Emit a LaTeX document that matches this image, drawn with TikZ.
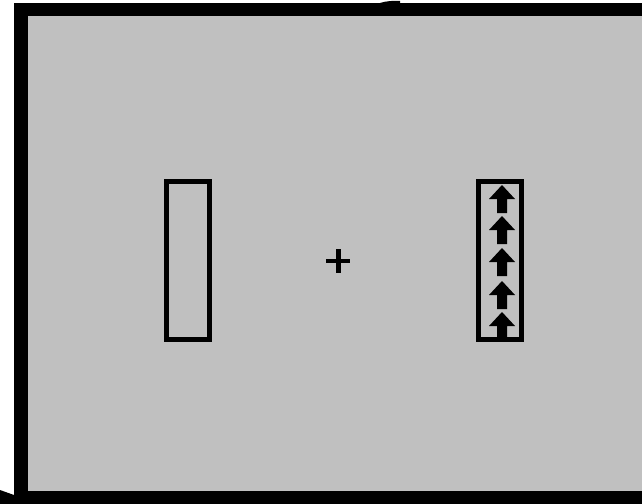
\documentclass[tikz,border=0pt]{standalone}
\definecolor{panelgray}{HTML}{C0C0C0}
\begin{document}
\begin{tikzpicture}[x=0.03cm,y=-0.03cm,
    slot/.style={draw=black,line width=4.2pt},
    upmark/.style={fill=black}]
    \fill[white] (0,0) rectangle (642,504);
    \useasboundingbox (0,0) rectangle (642,504);
    % frame and panel
    \fill[black] (14,3) rectangle (642,504);
    \fill[panelgray] (28,16) rectangle (642,491);
    \fill[black] (0,490) -- (14,495) -- (14,504) -- (0,504) -- cycle;
    \fill[black] (380,3) .. controls (386,1) and (394,0.5) .. (400,1) -- (400,3) -- cycle;
    % slots
    \draw[slot] (166.5,181.5) rectangle (209.5,339.5);
    \draw[slot] (478.5,181.5) rectangle (521.5,339.5);
    % arrows in the right slot
    \foreach \t in {185,216,248,281,312}
        \fill[upmark] (489,\t+14) -- (502,\t) -- (515,\t+14) -- (507,\t+14)
            -- (507,\t+28) -- (497,\t+28) -- (497,\t+14) -- cycle;
    % centre mark
    \draw[line width=3.8pt] (326,261) -- (350,261);
    \draw[line width=3.8pt] (338.5,249) -- (338.5,273);
\end{tikzpicture}
\end{document}
